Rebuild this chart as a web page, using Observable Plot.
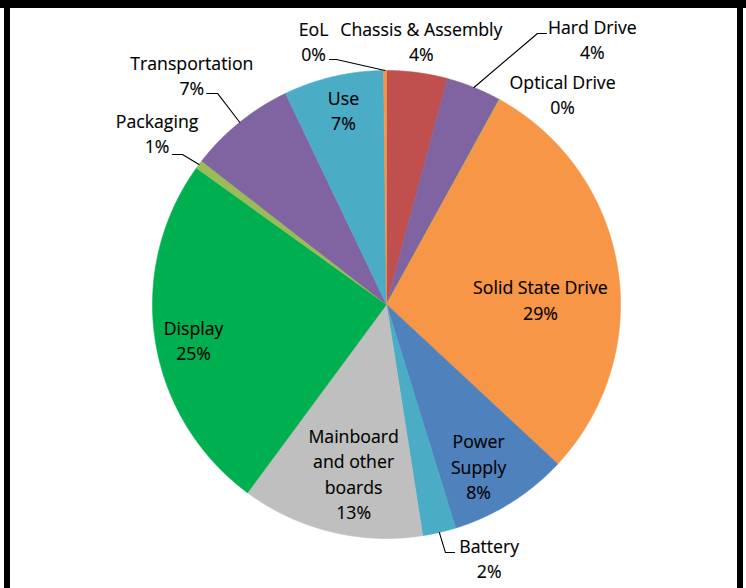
<!DOCTYPE html>
<html>
<head>
<meta charset="utf-8">
<script src="https://cdn.jsdelivr.net/npm/d3@7"></script>
<script src="https://cdn.jsdelivr.net/npm/@observablehq/plot@0.6"></script>
<style>
  html, body { margin: 0; padding: 0; background: #fff; }
  #wrap { position: relative; width: 746px; height: 588px; overflow: hidden; background: #fff; }
  #chart { position: absolute; left: 0; top: 0; }
  .bar { position: absolute; background: #000; }
</style>
</head>
<body>
<div id="wrap">
  <div id="chart"></div>
  <div class="bar" style="left:0;top:0;width:746px;height:8px;"></div>
  <div class="bar" style="left:4px;top:0;width:6px;height:588px;"></div>
  <div class="bar" style="left:737px;top:0;width:6px;height:588px;"></div>
</div>
<script>
// ---- data ----
const names = ["Chassis & Assembly", "Hard Drive", "Optical Drive", "Solid State Drive", "Power Supply", "Battery", "Mainboard and other boards", "Display", "Packaging", "Transportation", "Use", "EoL"];
const shares = [4.2, 3.8, 0.05, 28.9, 8.3, 2.3, 12.6, 24.8, 0.6, 7.4, 6.9, 0.2];
const pctLabels = ["4%", "4%", "0%", "29%", "8%", "2%", "13%", "25%", "1%", "7%", "7%", "0%"];
const labelLines = [["Chassis & Assembly"], ["Hard Drive"], ["Optical Drive"], ["Solid State Drive"], ["Power", "Supply"], ["Battery"], ["Mainboard", "and other", "boards"], ["Display"], ["Packaging"], ["Transportation"], ["Use"], ["EoL"]];

// ---- styles / layout ----
const palette = ["#C0504D", "#8064A2", "#9BBB59", "#F79646", "#4F81BD", "#4BACC6", "#BFBFBF", "#00B050", "#9BBB59", "#8064A2", "#4BACC6", "#F79646"];
// label block centre: [angle (deg, clockwise from top), radius factor]
const labelPolar = [[7.6, 1.127], [38.0, 1.429], [40.2, 1.166], [88.9, 0.658], [150.6, 0.802], [158.1, 1.176], [190.9, 0.744], [259.0, 0.840], [306.45, 1.219], [319.5, 1.281], [347.4, 0.843], [344.4, 1.160]];
// leader lines: slice index, elbow [u, v] in radius units, horizontal tail length
const leaders = [
  {i: 1, elbow: [0.645, 1.158], tail: 0.039},
  {i: 5, elbow: [0.252, -1.060], tail: 0.039},
  {i: 8, elbow: [-0.872, 0.641], tail: -0.043},
  {i: 9, elbow: [-0.722, 0.902], tail: -0.047},
  {i: 11, elbow: [-0.214, 1.047], tail: -0.030}
];

const slices = names.map((n, i) => ({name: n, share: shares[i], color: palette[i]}));
const arcs = d3.pie().sort(null).value(d => d.share)(slices);

// polygon points for each slice
const pts = [];
arcs.forEach((a, i) => {
  const n = Math.max(2, Math.ceil((a.endAngle - a.startAngle) / (Math.PI / 720)));
  pts.push({z: i, u: 0, v: 0, color: palette[i]});
  for (let k = 0; k <= n; k++) {
    const t = a.startAngle + (a.endAngle - a.startAngle) * k / n;
    pts.push({z: i, u: Math.sin(t), v: Math.cos(t), color: palette[i]});
  }
  pts.push({z: i, u: 0, v: 0, color: palette[i]});
});

// leader line points
const leaderPts = [];
leaders.forEach(l => {
  const a = arcs[l.i];
  const t = (a.startAngle + a.endAngle) / 2;
  leaderPts.push({z: l.i, u: Math.sin(t), v: Math.cos(t)});
  leaderPts.push({z: l.i, u: l.elbow[0], v: l.elbow[1]});
  leaderPts.push({z: l.i, u: l.elbow[0] + l.tail, v: l.elbow[1]});
});

const labels = names.map((n, i) => {
  const t = labelPolar[i][0] * Math.PI / 180, r = labelPolar[i][1];
  return {u: r * Math.sin(t), v: r * Math.cos(t), text: labelLines[i].concat([pctLabels[i]]).join("\n")};
});

const R = 234, cx = 386, cy = 304, W = 746, H = 588;
const chart = Plot.plot({
  width: W,
  height: H,
  margin: 0,
  style: {background: "transparent", fontFamily: "'Open Sans', sans-serif"},
  x: {domain: [-cx / R, (W - cx) / R], axis: null},
  y: {domain: [-(H - cy) / R, cy / R], axis: null},
  color: {type: "identity"},
  marks: [
    Plot.line(pts, {x: "u", y: "v", z: "z", fill: "color", stroke: "color", strokeWidth: 0.6, curve: "linear"}),
    Plot.line(leaderPts, {x: "u", y: "v", z: "z", stroke: "#000", strokeWidth: 1.1, curve: "linear"}),
    Plot.text(labels, {x: "u", y: "v", text: "text", fontSize: 17.7, lineHeight: 1.43, dy: -2.5, fill: "#000", stroke: "#000", strokeWidth: 0.15, textAnchor: "middle"})
  ]
});
document.getElementById("chart").appendChild(chart);
</script>
</body>
</html>
